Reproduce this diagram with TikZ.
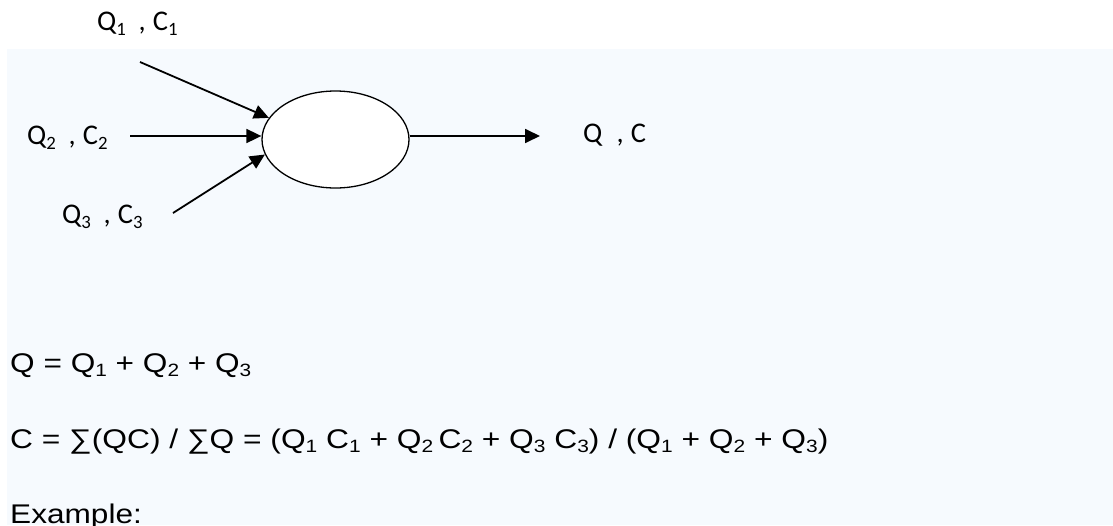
\documentclass[tikz,border=0pt]{standalone}
\usepackage{fontspec}
\setmainfont{Liberation Sans}
\newfontfamily\calfont{Carlito}
\usetikzlibrary{arrows.meta,shapes.geometric}
\definecolor{panel}{RGB}{246,250,254}
\newcommand\sbx[1]{\raisebox{-0.18em}{\scalebox{0.66}{#1}}}
\begin{document}
\begin{tikzpicture}[x=1pt,y=-1pt,
  lbl/.style={anchor=base west,inner sep=0pt,font=\calfont\fontsize{28.5}{32}\selectfont},
  eq/.style={anchor=base west,inner sep=0pt,font=\fontsize{27}{32}\selectfont},
  flow/.style={line width=1.8pt,-{Triangle[length=15pt,width=14pt]}},
  mixer/.style={ellipse,draw,line width=1.3pt,fill=white,minimum width=147pt,minimum height=97pt,inner sep=0pt}]
\useasboundingbox (0,0) rectangle (1113,525);
\fill[white] (0,0) rectangle (1113,525);
\fill[panel] (7,48.5) rectangle (1113,525);
\node[mixer] (mix) at (335.5,139.5) {};
\node[lbl] (l1) at (97,30) {Q\sbx{1}\hspace{0.45em},\hspace{0.25em}C\sbx{1}};
\node[lbl] (l2) at (27,144) {Q\sbx{2}\hspace{0.45em},\hspace{0.25em}C\sbx{2}};
\node[lbl] (l3) at (62,223) {Q\sbx{3}\hspace{0.45em},\hspace{0.25em}C\sbx{3}};
\node[lbl] (lo) at (583,142) {Q\hspace{0.5em},\hspace{0.25em}C};
\coordinate (s1) at (140,62);
\coordinate (s2) at (130,136);
\coordinate (s3) at (173,213);
\coordinate (e) at (540,136);
\draw[flow] (s1) -- (mix.162);
\draw[flow] (s2) -- (s2 -| mix.west);
\draw[flow] (s3) -- (mix.192);
\draw[flow] (e -| mix.east) -- (e);
\node[eq] (f1) at (10,372) {\scalebox{1.17}[1]{Q = Q\sbx{1} + Q\sbx{2} + Q\sbx{3}}};
\node[eq] (f2) at (10,448) {\scalebox{1.175}[1]{C = ∑(QC) / ∑Q = (Q\sbx{1} C\sbx{1} + Q\sbx{2}\,C\sbx{2} + Q\sbx{3} C\sbx{3}) / (Q\sbx{1} + Q\sbx{2} + Q\sbx{3})}};
\node[eq] (f3) at (10,523) {\scalebox{1.17}[1]{Example:}};
\end{tikzpicture}
\end{document}
